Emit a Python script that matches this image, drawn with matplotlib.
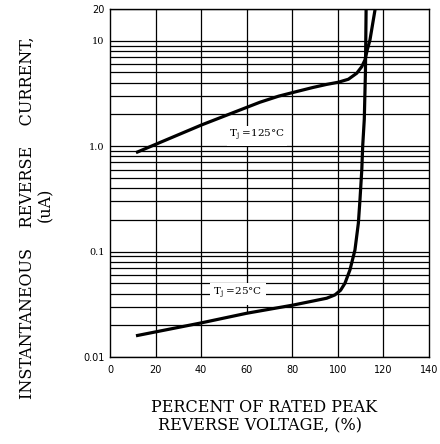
import matplotlib
matplotlib.use("Agg")
import matplotlib.pyplot as plt
import numpy as np

# ---- data ----
t125_x = [11.4, 40.2, 65.8, 74.0, 82.0, 89.0, 95.0, 100.2, 104.6, 108.3, 110.5, 111.9, 112.9, 114.1, 116.3, 116.6]
t125_y = [0.868, 1.59, 2.61, 2.98, 3.30, 3.60, 3.85, 4.04, 4.31, 4.92, 5.68, 6.58, 8.18, 10.2, 19.6, 22.0]

t25_x = [11.4, 40.2, 60.0, 80.4, 95.1, 98.7, 101.2, 103.1, 105.3, 107.5, 109.0, 109.7, 110.5, 110.9, 111.6, 112.1, 112.4, 112.45]
t25_y = [0.0159, 0.0211, 0.026, 0.0311, 0.0361, 0.0388, 0.043, 0.050, 0.0669, 0.1035, 0.186, 0.309, 0.594, 1.0, 1.8, 5.0, 20.0, 22.0]

x_ticks = [0, 20, 40, 60, 80, 100, 120, 140]
y_ticks = [0.01, 0.1, 1.0, 10, 20]
y_tick_labels = ["0.01", "0.1", "1.0", "10", "20"]

label_125 = "T$_\\mathrm{j}$ =125\u00b0C"
label_25 = "T$_\\mathrm{j}$ =25\u00b0C"
label_125_pos = (64.5, 1.25)
label_25_pos = (56.2, 0.04)

plt.rcParams["mathtext.fontset"] = "dejavuserif"

fig = plt.figure(figsize=(4.40, 4.44), dpi=100)
ax = fig.add_axes([110/440, 1-357/444, 319/440, 348/444])
ax.set_yscale("log")
ax.set_xlim(0, 140)
ax.set_ylim(0.01, 20)

# grid
glw = 0.9
for dec in [0.01, 0.1, 1.0, 10.0]:
    for m in range(1, 10):
        v = dec * m
        if v < 0.01 or v > 20:
            continue
        ax.axhline(v, color="black", lw=glw, zorder=1)
for xv in [20, 40, 80, 100, 120]:
    ax.axvline(xv, color="black", lw=glw, zorder=1)
# the 60 % line is broken in the reference
for lo, hi in [(1.59, 20), (0.05, 1.07), (0.026, 0.032)]:
    ax.plot([60, 60], [lo, hi], color="black", lw=glw, zorder=1)

ax.plot(t125_x, t125_y, color="black", lw=2.3, solid_capstyle="butt",
        solid_joinstyle="round", zorder=3)
ax.plot(t25_x, t25_y, color="black", lw=2.3, solid_capstyle="butt",
        solid_joinstyle="round", zorder=3)

ax.text(*label_125_pos, label_125, ha="center", va="center", fontsize=7.5,
        family="DejaVu Serif", zorder=4,
        bbox=dict(facecolor="white", edgecolor="none", pad=1.5))
ax.text(*label_25_pos, label_25, ha="center", va="center", fontsize=7.5,
        family="DejaVu Serif", zorder=4,
        bbox=dict(facecolor="white", edgecolor="none", pad=2.5))

for s in ax.spines.values():
    s.set_linewidth(1.0)
    s.set_zorder(5)

ax.set_xticks(x_ticks)
ax.set_xticklabels([str(v) for v in x_ticks], fontsize=7, family="DejaVu Sans")
ax.set_yticks(y_ticks)
ax.set_yticklabels(y_tick_labels, fontsize=7)
ax.yaxis.set_minor_locator(matplotlib.ticker.NullLocator())
ax.tick_params(axis="both", length=0)
ax.tick_params(axis="x", pad=6)
ax.tick_params(axis="y", pad=4)
for lab in ax.get_yticklabels():
    if lab.get_text() in ("1.0", "0.1", "10"):
        lab.set_family("DejaVu Serif")
    else:
        lab.set_family("DejaVu Sans")

fig.text(27.5/440, 1-217.5/444, "INSTANTANEOUS    REVERSE    CURRENT,", rotation=90,
         ha="center", va="center", fontsize=11.5, family="DejaVu Serif")
fig.text(46/440, 1-205/444, "(uA)", rotation=90,
         ha="center", va="center", fontsize=11.5, family="DejaVu Serif")
fig.text(264/440, 1-407.5/444, "PERCENT OF RATED PEAK",
         ha="center", va="center", fontsize=11.5, family="DejaVu Serif")
fig.text(260/440, 1-426/444, "REVERSE VOLTAGE, (%)",
         ha="center", va="center", fontsize=11.5, family="DejaVu Serif")

fig.savefig("out.png", dpi=100)
